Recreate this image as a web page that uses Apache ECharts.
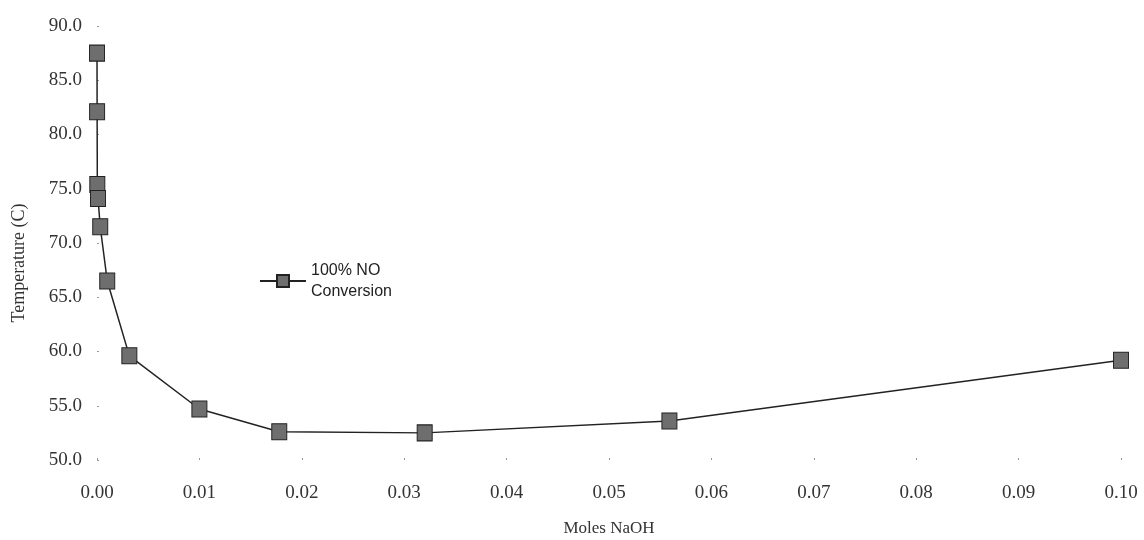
<!DOCTYPE html>
<html>
<head>
<meta charset="utf-8">
<script src="https://cdn.jsdelivr.net/npm/echarts@6/dist/echarts.min.js"></script>
<style>
html,body{margin:0;padding:0;background:#fff;}
#chart{width:1144px;height:540px;}
</style>
</head>
<body>
<div id="chart"></div>
<script>
const molesNaOH = [0.000001, 0.00001, 0.0000316, 0.0001, 0.000316, 0.001, 0.00316, 0.01, 0.0178, 0.032, 0.0559, 0.1];
const temperatureC = [87.5, 82.1, 75.4, 74.1, 71.5, 66.5, 59.6, 54.7, 52.6, 52.5, 53.6, 59.2];
const seriesName = '100% NO Conversion';

const points = molesNaOH.map((x, i) => [x, temperatureC[i]]);
const serif = '"Liberation Serif", "DejaVu Serif", serif';

const chart = echarts.init(document.getElementById('chart'));
chart.setOption({
  backgroundColor: '#fff',
  animation: false,
  grid: { left: 97, right: 23, top: 26, bottom: 80, containLabel: false, outerBoundsMode: 'none' },
  legend: {
    left: 254, top: 255,
    orient: 'vertical',
    itemWidth: 46, itemHeight: 15,
    itemGap: 4,
    formatter: () => '100% NO\nConversion',
    textStyle: { fontFamily: '"Liberation Sans", Arial, sans-serif', fontSize: 16, color: '#222', lineHeight: 21, align: 'left' },
    data: [seriesName]
  },
  xAxis: {
    type: 'value', min: 0, max: 0.1, interval: 0.01,
    name: 'Moles NaOH', nameLocation: 'middle', nameGap: 60,
    nameTextStyle: { fontFamily: serif, fontSize: 17, color: '#333' },
    axisLine: { show: false },
    axisTick: { show: true, inside: true, length: 2, lineStyle: { color: '#999' } },
    splitLine: { show: false },
    axisLabel: { fontFamily: serif, fontSize: 19, color: '#333', margin: 24, formatter: v => v.toFixed(2) }
  },
  yAxis: {
    type: 'value', min: 50, max: 90, interval: 5,
    name: 'Temperature (C)', nameLocation: 'middle', nameGap: 69, nameRotate: 90,
    nameTextStyle: { fontFamily: serif, fontSize: 18, color: '#333', padding: [0, 40, 0, 0] },
    axisLine: { show: false },
    axisTick: { show: true, inside: true, length: 2, lineStyle: { color: '#999' } },
    splitLine: { show: false },
    axisLabel: { fontFamily: serif, fontSize: 19, color: '#333', margin: 15, formatter: v => v.toFixed(1) }
  },
  series: [{
    name: seriesName,
    type: 'line',
    data: points,
    symbol: 'rect',
    symbolSize: [15, 16],
    itemStyle: { color: '#6e6e6e', borderColor: '#222', borderWidth: 1 },
    lineStyle: { color: '#222', width: 1.5 },
    z: 3
  }]
});
</script>
</body>
</html>
